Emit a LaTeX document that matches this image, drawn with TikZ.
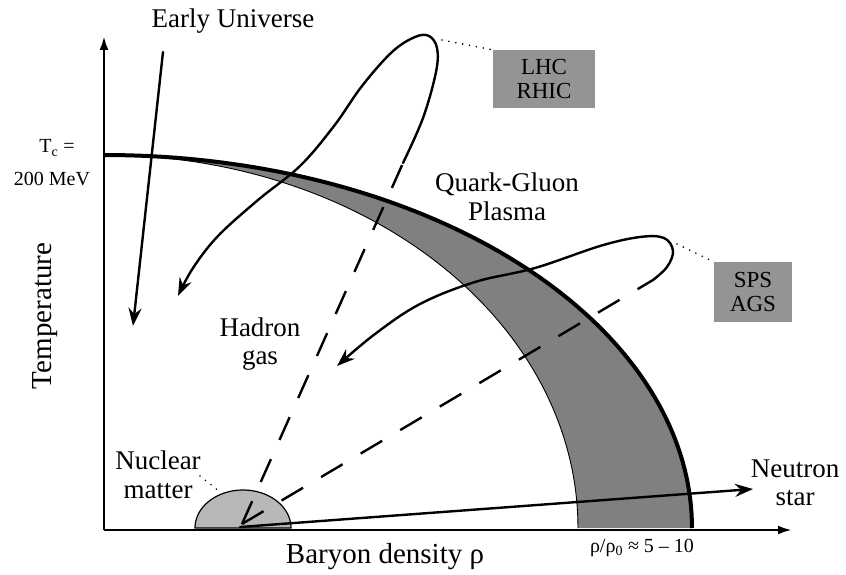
\documentclass[tikz,border=0pt]{standalone}
\usepackage{fontspec}
\setmainfont{Liberation Serif}
\usetikzlibrary{arrows.meta}
\begin{document}
\begin{tikzpicture}[x=1pt,y=-1pt,
  lbl/.style={font=\fontsize{27}{28.5}\selectfont, inner sep=0pt, align=center},
  axlbl/.style={font=\fontsize{29}{30}\selectfont, inner sep=0pt},
  small/.style={font=\fontsize{20}{22}\selectfont, inner sep=0pt},
  thickpath/.style={line width=2.4pt, line cap=round},
  tip/.style={-{Stealth[length=18pt,width=13pt,inset=6pt]}},
  axis/.style={line width=2.6pt, -{Latex[length=14pt,width=9pt]}},
  dashpath/.style={line width=2.4pt, dash pattern=on 25pt off 21pt},
  leader/.style={line width=1.8pt, dash pattern=on 0pt off 7pt, line cap=round},
  tagbox/.style={fill=black!42, inner sep=0pt, align=center,
     font=\fontsize{23}{24}\selectfont},
]
\useasboundingbox (0,0) rectangle (846,575);

% coordinates
\coordinate (origin) at (104,530);
\coordinate (ytop) at (104,36);
\coordinate (xend) at (792,530);
\coordinate (nuc) at (242,524);
\coordinate (lhcend) at (403,163);
\coordinate (spsend) at (653,280);
\coordinate (eustart) at (163,52);
\coordinate (euend) at (133,326);
\coordinate (nsend) at (753,489);

% phase band
\fill[black!50] plot[domain=0:90,samples=80] ({105+587*cos(\x)},{528-373*sin(\x)})
   -- plot[domain=90:0,samples=80] ({105+473*cos(\x)},{528-373*sin(\x)}) -- cycle;
\draw[line width=0.9pt] plot[domain=90:0,samples=80] ({105+473*cos(\x)},{528-373*sin(\x)});
\draw[line width=4pt] plot[domain=0:90,samples=80] ({105+587*cos(\x)},{528-373*sin(\x)});

% nuclear matter
\filldraw[fill=black!28, line width=1.2pt] plot[domain=0:180,samples=50] ({243+48*cos(\x)},{528-38*sin(\x)}) -- cycle;

% axes
\draw[axis] (origin) -- (ytop);
\draw[axis] (origin) -- (xend);

% early universe
\draw[thickpath,tip] (eustart) -- (euend);

% LHC / RHIC trajectory
\draw[thickpath,tip] plot[smooth,tension=0.6] coordinates {
  (lhcend) (423,118) (436,72) (437,48) (429,36) (415,37) (392,52) (362,86)
  (334,126) (300,166) (258,200) (218,236) (193,268) (178,296)};
\draw[dashpath] (nuc) -- (lhcend);

% SPS / AGS trajectory
\draw[thickpath,tip] plot[smooth,tension=0.6] coordinates {
  (spsend) (667,267) (673,251) (664,238) (640,237) (600,246) (535,268)
  (475,282) (420,304) (375,334) (337,366)};
\draw[dashpath] (nuc) -- (spsend);

% neutron star
\coordinate (nsstart) at (240,527);
\draw[thickpath,tip] (nsstart) -- (nsend);

% tag boxes
\node[tagbox, minimum width=102pt, minimum height=58pt] (lhc) at (544,79) {LHC\\RHIC};
\node[tagbox, minimum width=78pt, minimum height=60pt] (sps) at (753,292) {SPS\\AGS};
\coordinate (lhcpeak) at (442,40);
\coordinate (spspeak) at (677,244);
\draw[leader] (lhcpeak) -- (lhc.north west);
\draw[leader] (spspeak) -- (sps.north west);

% labels
\node[lbl, anchor=base] (eu) at (233,28) {Early Universe};
\node[lbl] (qgp) at (507,197) {Quark-Gluon\\Plasma};
\node[lbl] (hg) at (260,344) {Hadron\\gas};
\node[lbl] (nm) at (158,475) {Nuclear\\matter};
\node[lbl] (ns) at (795,483) {Neutron\\star};
\node[axlbl, rotate=90] (temp) at (45,316) {Temperature};
\node[axlbl, anchor=base] (bd) at (385,563) {Baryon density ρ};
\node[small, anchor=base] (tc) at (57,153) {T\textsubscript{c} =};
\node[small] (mev) at (52,179) {200 MeV};
\node[small, anchor=base] (ratio) at (642,552) {ρ/ρ\textsubscript{0} ≈ 5 – 10};
\coordinate (nmdot) at (200,476);
\coordinate (nmdot2) at (220,492);
\draw[leader] (nmdot) -- (nmdot2);
\end{tikzpicture}
\end{document}
